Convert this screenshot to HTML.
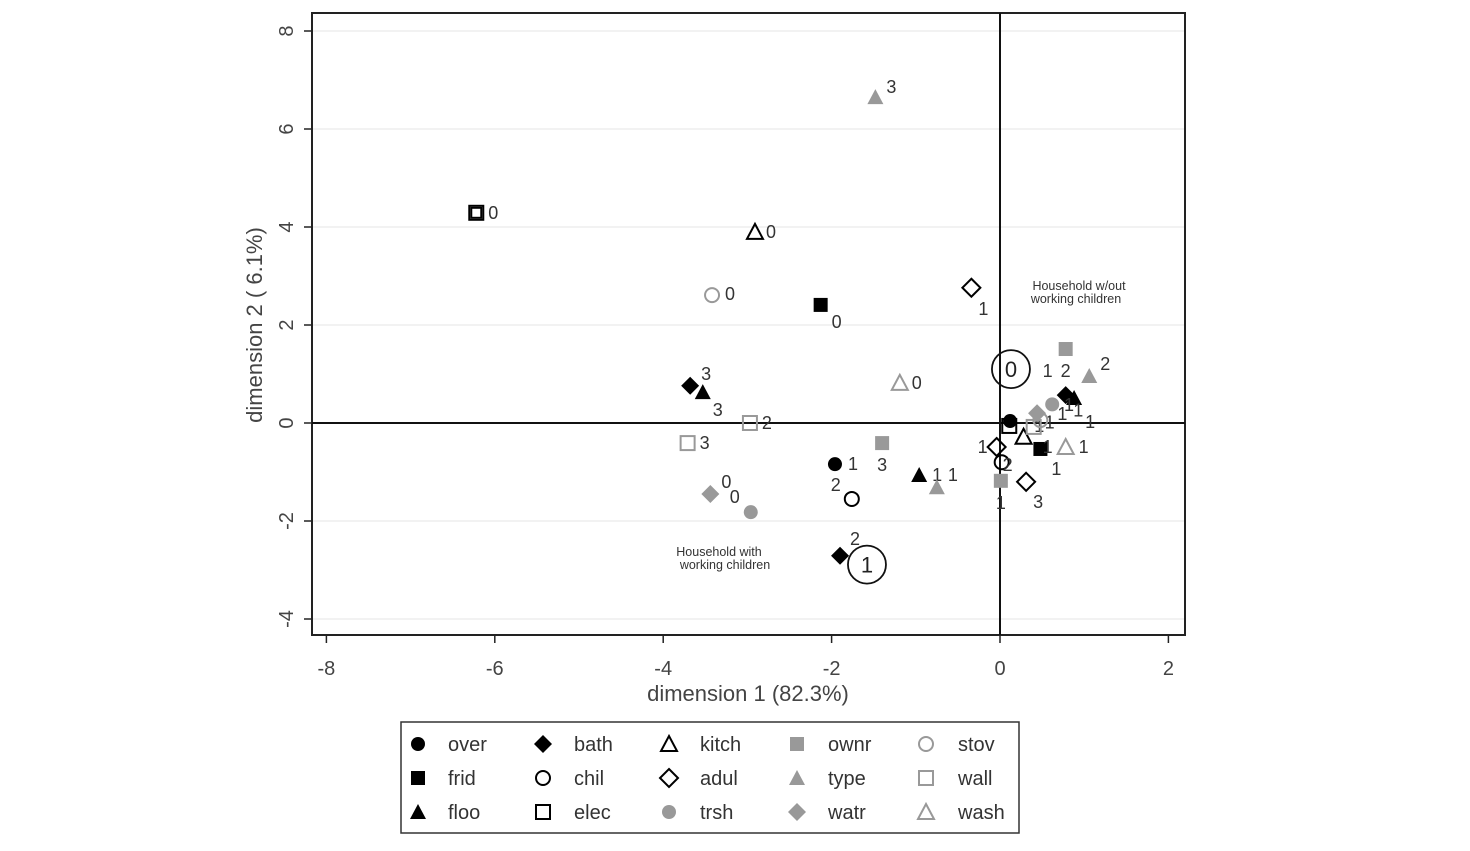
<!DOCTYPE html>
<html><head><meta charset="utf-8"><style>
body{margin:0;background:#fff;}
svg{display:block;font-family:"Liberation Sans",sans-serif;}
</style></head><body>
<svg id="chart" width="1470" height="851" viewBox="0 0 1470 851"></svg>
<script>
const xTicks=[-8,-6,-4,-2,0,2];
const yTicks=[-4,-2,0,2,4,6,8];
const pointVars=["type","elec","kitch","stov","frid","adul","wash","bath","floo","wall","wall","ownr","over","floo","type","chil","watr","trsh","bath","ownr","adul","chil","adul","frid","wash","ownr","type","bath","floo","over","elec","watr","trsh","kitch","wall","stov"];
const pointX=[-1.48,-6.22,-2.91,-3.42,-2.13,-0.34,-1.19,-3.68,-3.53,-2.97,-3.71,-1.40,-1.96,-0.96,-0.75,-1.76,-3.44,-2.96,-1.90,0.01,0.31,0.02,-0.04,0.48,0.78,0.78,1.06,0.78,0.88,0.12,0.11,0.44,0.62,0.28,0.40,0.48];
const pointY=[6.65,4.29,3.9,2.61,2.41,2.76,0.82,0.76,0.63,0,-0.41,-0.41,-0.84,-1.06,-1.31,-1.55,-1.45,-1.82,-2.71,-1.18,-1.20,-0.80,-0.49,-0.53,-0.49,1.51,0.96,0.57,0.51,0.04,-0.06,0.20,0.38,-0.28,-0.08,0.06];
const pointLabels=["3","0","0","0","0","1","0","3","3","2","3","3","1","1","1","2","0","0","2","1","3","2","1","1","1","2","2","1","1","1","1","1","1","1","1","1"];
const legendVars=["over","bath","kitch","ownr","stov","frid","chil","adul","type","wall","floo","elec","trsh","watr","wash"];
const markerStyle={over:["circle","#000",1],frid:["square","#000",1],floo:["triangle","#000",1],bath:["diamond","#000",1],chil:["circle","#000",0],elec:["square","#000",0],kitch:["triangle","#000",0],adul:["diamond","#000",0],trsh:["circle","#999",1],ownr:["square","#999",1],type:["triangle","#999",1],watr:["diamond","#999",1],stov:["circle","#999",0],wall:["square","#999",0],wash:["triangle","#999",0]};
const labelOff=[[16,-4],[17,6],[16,6],[18,5],[16,23],[12,27],[17,6],[16,-6],[15,24],[17,6],[17,6],[0,28],[18,6],[18,6],[16,-6],[-16,-8],[16,-6],[-16,-9],[15,-11],[0,28],[12,26],[6,9],[-14,6],[16,26],[18,6],[0,28],[16,-6],[-18,-18],[16,30],[26,2],[30,6],[32,-2],[26,12],[26,-8],[14,26],[22,0]];
const svg=document.getElementById('chart');
const NS='http://www.w3.org/2000/svg';
const L=312,R=1185,T=13,B=635;
const sx=v=>1000+v*84.2, sy=v=>423-v*49;
function mk(t,a,p){const e=document.createElementNS(NS,t);for(const k in a)e.setAttribute(k,a[k]);(p||svg).appendChild(e);return e;}
function marker(type,cx,cy,col,fill,g,s){
  s=s||8;let e;const f=fill?col:'none';const sw=fill?0:2;
  if(type==='circle')e=mk('circle',{cx:cx,cy:cy,r:s-1,fill:f,stroke:col,'stroke-width':sw},g);
  else if(type==='square')e=mk('rect',{x:cx-s+1,y:cy-s+1,width:2*s-2,height:2*s-2,fill:f,stroke:col,'stroke-width':sw},g);
  else if(type==='triangle')e=mk('polygon',{points:`${cx},${cy-s} ${cx+s},${cy+s-1} ${cx-s},${cy+s-1}`,fill:f,stroke:col,'stroke-width':sw},g);
  else e=mk('polygon',{points:`${cx},${cy-s-1} ${cx+s+1},${cy} ${cx},${cy+s+1} ${cx-s-1},${cy}`,fill:f,stroke:col,'stroke-width':sw},g);
  return e;
}
yTicks.forEach(v=>{const l=mk('line',{x1:L,x2:R,y1:sy(v),y2:sy(v),stroke:'#eee','stroke-width':1.5});

});
const fr=mk('rect',{x:L,y:T,width:R-L,height:B-T,fill:'none',stroke:'#222','stroke-width':2});


const zx=mk('line',{x1:L,x2:R,y1:sy(0),y2:sy(0),stroke:'#111','stroke-width':2});


const zy=mk('line',{x1:sx(0),x2:sx(0),y1:T,y2:B,stroke:'#111','stroke-width':2});


xTicks.forEach(v=>{mk('line',{x1:sx(v),x2:sx(v),y1:B,y2:B+8,stroke:'#222','stroke-width':1.5});
const t=mk('text',{x:sx(v),y:B+40,'text-anchor':'middle','font-size':20,fill:'#444'});t.textContent=v;

});
yTicks.forEach(v=>{mk('line',{x1:L-8,x2:L,y1:sy(v),y2:sy(v),stroke:'#222','stroke-width':1.5});
const t=mk('text',{x:0,y:0,transform:`translate(293,${sy(v)}) rotate(-90)`,'text-anchor':'middle','font-size':20,fill:'#444'});t.textContent=v;

});
const xt=mk('text',{x:748,y:701,'text-anchor':'middle','font-size':22,fill:'#444'});xt.textContent='dimension 1 (82.3%)';


const yt=mk('text',{transform:'translate(262,325) rotate(-90)','text-anchor':'middle','font-size':22,fill:'#444'});yt.textContent='dimension 2 ( 6.1%)';


pointVars.forEach((v,i)=>{const g=mk('g',{});


const [ty,col,fill]=markerStyle[v];const cx=sx(pointX[i]),cy=sy(pointY[i]);
marker(ty,cx,cy,col,fill,g);
if(v==='elec'&&i===1)marker(ty,cx,cy,col,fill,g,6);
const t=mk('text',{x:cx+labelOff[i][0],y:cy+labelOff[i][1],'text-anchor':'middle','font-size':18,fill:'#333'},g);t.textContent=pointLabels[i];});
[[0.13,1.1,'0','group-0-circle'],[-1.58,-2.89,'1','group-1-circle']].forEach(c=>{const g=mk('g',{});


mk('circle',{cx:sx(c[0]),cy:sy(c[1]),r:19,fill:'none',stroke:'#111','stroke-width':1.8},g);
const t=mk('text',{x:sx(c[0]),y:sy(c[1])+8,'text-anchor':'middle','font-size':22,fill:'#222'},g);t.textContent=c[2];});
[[1079,290,'Household w/out'],[1076,303,'working children'],[719,556,'Household with'],[725,569,'working children']].forEach(a=>{
const t=mk('text',{x:a[0],y:a[1],'text-anchor':'middle','font-size':12.5,fill:'#333'});t.textContent=a[2];

});
const lg=mk('g',{});


mk('rect',{x:401,y:722,width:618,height:111,fill:'#fff',stroke:'#333','stroke-width':1.5},lg);
const colMX=[418,543,669,797,926],colTX=[448,574,700,828,958],rowY=[744,778,812];
legendVars.forEach((v,i)=>{const r=Math.floor(i/5),c=i%5;const g=mk('g',{},lg);


const [ty,col,fill]=markerStyle[v];marker(ty,colMX[c],rowY[r],col,fill,g);
const t=mk('text',{x:colTX[c],y:rowY[r]+7,'font-size':20,fill:'#333'},g);t.textContent=v;});
</script>
</body></html>
